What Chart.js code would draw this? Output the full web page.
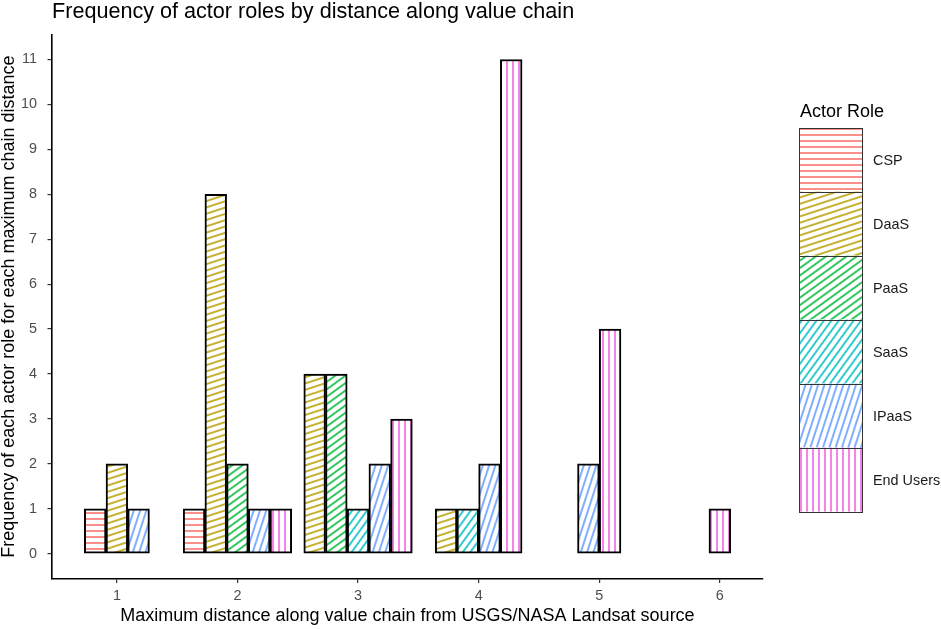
<!DOCTYPE html>
<html lang="en">
<head>
    <meta charset="UTF-8">
    <title>Frequency of actor roles by distance along value chain</title>
    <script src="https://cdn.jsdelivr.net/npm/chart.js@4.4.1/dist/chart.umd.min.js"></script>
    <style>
        html, body { margin: 0; padding: 0; background: #fff; }
        #wrap { width: 941px; height: 629px; position: relative; }
    </style>
</head>
<body>
<div id="wrap"><canvas id="roleChart"></canvas></div>
<script>
// x categories: maximum distance along the value chain
var distances = [1, 2, 3, 4, 5, 6];
var yTicks = [0, 1, 2, 3, 4, 5, 6, 7, 8, 9, 10, 11];

// counts per actor role at each distance (0 = no bar)
var roles = ['CSP', 'DaaS', 'PaaS', 'SaaS', 'IPaaS', 'End Users'];
var cspCounts     = [1, 1, 0, 0, 0, 0];
var daasCounts    = [2, 8, 4, 1, 0, 0];
var paasCounts    = [0, 2, 4, 0, 0, 0];
var saasCounts    = [0, 0, 1, 1, 0, 0];
var ipaasCounts   = [1, 1, 2, 2, 2, 0];
var endUserCounts = [0, 1, 3, 11, 5, 1];

// styling
var roleColors = ['#F8766D', '#B79F00', '#00BA38', '#00BFC4', '#619CFF', '#F564E3'];
var hatchAngles = [0, 18, 36, 54, 72, 90];
var FONT = "'Liberation Sans', Arial, sans-serif";

Chart.defaults.font.family = FONT;

// striped fill: horizontal stripe tile rotated by the given angle
function hatch(color, angle) {
    var spacing = 6, lw = 1.6;
    var tile = document.createElement('canvas');
    tile.width = 16;
    tile.height = spacing;
    var c = tile.getContext('2d');
    c.fillStyle = '#fff';
    c.fillRect(0, 0, tile.width, tile.height);
    c.fillStyle = color;
    c.fillRect(0, (spacing - lw) / 2, tile.width, lw);
    var p = c.createPattern(tile, 'repeat');
    p.setTransform(new DOMMatrix().rotate(-angle));
    return p;
}

// dodge bars inside each distance (ggplot style, width 0.9 shared by the biggest group)
var counts = [cspCounts, daasCounts, paasCounts, saasCounts, ipaasCounts, endUserCounts];
var groupSizes = distances.map(function (d, di) {
    return counts.filter(function (c) { return c[di] > 0; }).length;
});
var barWidth = 0.9 / Math.max.apply(null, groupSizes);

var datasets = roles.map(function (r, ri) {
    return {
        label: r,
        data: [],
        backgroundColor: hatch(roleColors[ri], hatchAngles[ri]),
        borderColor: '#000',
        borderWidth: 2,
        borderSkipped: false,
        grouped: false,
        categoryPercentage: 1,
        barPercentage: 1
    };
});

var xLo = Infinity, xHi = -Infinity;
distances.forEach(function (d, di) {
    var present = [];
    counts.forEach(function (c, ri) { if (c[di] > 0) present.push(ri); });
    present.forEach(function (ri, k) {
        datasets[ri].data.push({ x: d + (k - (present.length - 1) / 2) * barWidth, y: counts[ri][di] });
    });
    xLo = Math.min(xLo, d - present.length * barWidth / 2);
    xHi = Math.max(xHi, d + present.length * barWidth / 2);
});
var xPad = (xHi - xLo) * 0.05;
var yMax = Math.max.apply(null, counts.map(function (c) { return Math.max.apply(null, c); }));
var yPad = yMax * 0.05;

// legend drawn at the right, keys stacked like the ggplot guide
var legendPlugin = {
    id: 'roleLegend',
    afterDraw: function (chart) {
        var ctx = chart.ctx, area = chart.chartArea;
        var key = 64;
        var x = area.right + 36;
        var top = (area.top + area.bottom) / 2 - key * roles.length / 2 + 13;
        ctx.save();
        ctx.textAlign = 'left';
        ctx.textBaseline = 'alphabetic';
        ctx.fillStyle = '#000';
        ctx.font = '18px ' + FONT;
        ctx.fillText('Actor Role', x + 1, top - 10.5);
        chart.data.datasets.forEach(function (ds, i) {
            var y = top + i * key;
            ctx.fillStyle = ds.backgroundColor;
            ctx.fillRect(x, y, key, key);
        });
        ctx.strokeStyle = '#333';
        ctx.lineWidth = 1;
        chart.data.datasets.forEach(function (ds, i) {
            var y = Math.round(top + i * key) + 0.5;
            ctx.strokeRect(Math.round(x) + 0.5, y, key - 1, key);
        });
        ctx.fillStyle = '#1A1A1A';
        ctx.font = '14.4px ' + FONT;
        ctx.textBaseline = 'middle';
        chart.data.datasets.forEach(function (ds, i) {
            ctx.fillText(ds.label, x + key + 10, top + i * key + key / 2 + 1);
        });
        ctx.restore();
    }
};

var axisGrid = { display: true, drawOnChartArea: false, drawTicks: true, tickLength: 4.5, color: '#333', lineWidth: 1.2, offset: false };
var axisBorder = { display: true, color: '#000', width: 1.6 };

new Chart(document.getElementById('roleChart'), {
    type: 'bar',
    data: { datasets: datasets },
    options: {
        responsive: true,
        maintainAspectRatio: false,
        animation: false,
        layout: { padding: { left: 0, right: 178, top: 0, bottom: 0 } },
        scales: {
            x: {
                type: 'linear',
                offset: false,
                min: xLo - xPad,
                max: xHi + xPad,
                afterBuildTicks: function (s) { s.ticks = distances.map(function (v) { return { value: v }; }); },
                afterFit: function (s) { s.height = 50.5; },
                grid: axisGrid,
                border: axisBorder,
                ticks: { color: '#4D4D4D', font: { size: 14.4 }, padding: 4 },
                title: {
                    display: true,
                    text: 'Maximum distance along value chain from USGS/NASA Landsat source',
                    color: '#000',
                    font: { size: 18 },
                    padding: { top: 0, bottom: 2 }
                }
            },
            y: {
                type: 'linear',
                min: -yPad,
                max: yMax + yPad,
                afterBuildTicks: function (s) { s.ticks = yTicks.map(function (v) { return { value: v }; }); },
                afterFit: function (s) { s.width = 52; },
                grid: axisGrid,
                border: axisBorder,
                ticks: { color: '#4D4D4D', font: { size: 14.4 }, padding: 10.5 },
                title: {
                    display: true,
                    text: 'Frequency of each actor role for each maximum chain distance',
                    color: '#000',
                    font: { size: 18, lineHeight: 1 },
                    padding: { top: 0, bottom: 0 }
                }
            }
        },
        plugins: {
            legend: { display: false },
            tooltip: { enabled: false },
            title: {
                display: true,
                text: 'Frequency of actor roles by distance along value chain',
                align: 'start',
                fullSize: false,
                color: '#000',
                font: { size: 21.6, weight: 'normal', lineHeight: 1.1 },
                padding: { top: 0, bottom: 11 }
            }
        }
    },
    plugins: [legendPlugin]
});
</script>
</body>
</html>
